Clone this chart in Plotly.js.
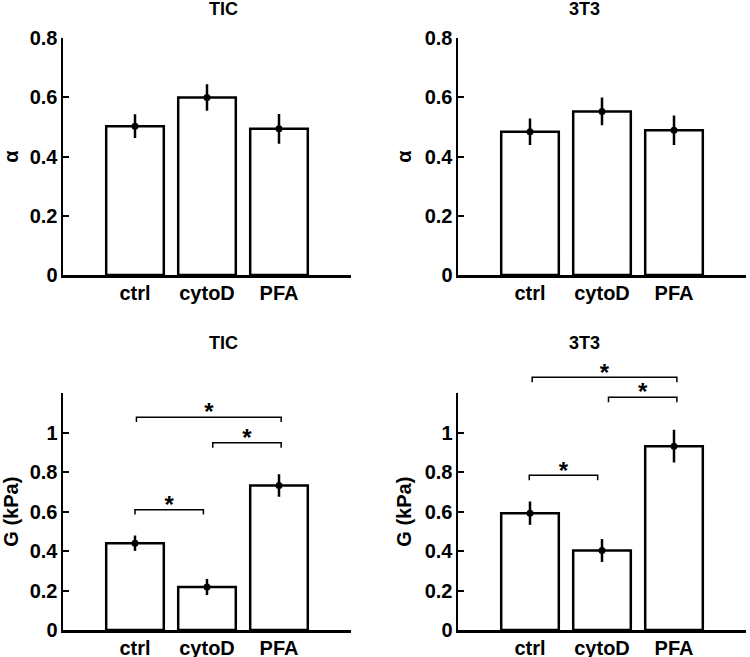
<!DOCTYPE html>
<html>
<head>
<meta charset="utf-8">
<script src="https://cdn.plot.ly/plotly-3.0.1.min.js"></script>
<style>html,body{margin:0;padding:0;background:#fff;}#chart{width:750px;height:657px;}</style>
</head>
<body>
<div id="chart"></div>
<script>
// ---- data ----
const categories = ['ctrl', 'cytoD', 'PFA'];
const categoryPos = [1, 2, 3];

const alphaTIC = [0.503, 0.600, 0.494];
const alphaTICErr = [0.040, 0.045, 0.050];
const alpha3T3 = [0.484, 0.553, 0.489];
const alpha3T3Err = [0.045, 0.047, 0.050];

const gTIC = [0.440, 0.218, 0.733];
const gTICErr = [0.039, 0.041, 0.057];
const g3T3 = [0.592, 0.403, 0.932];
const g3T3Err = [0.059, 0.058, 0.083];

// significance brackets (category positions and heights in kPa)
const bracketFromTIC = [1.00, 2.08, 1.02];
const bracketToTIC = [1.95, 3.03, 3.03];
const bracketYTIC = [0.610, 0.949, 1.079];
const bracketFrom3T3 = [0.99, 2.09, 1.03];
const bracketTo3T3 = [1.94, 3.04, 3.04];
const bracketY3T3 = [0.784, 1.180, 1.281];
const bracketLabel = '*';

const alphaTicks = [0, 0.2, 0.4, 0.6, 0.8];
const alphaTickText = ['0', '0.2', '0.4', '0.6', '0.8'];
const gTicks = [0, 0.2, 0.4, 0.6, 0.8, 1];
const gTickText = ['0', '0.2', '0.4', '0.6', '0.8', '1'];

// ---- styling ----
const FONT = 'Liberation Sans, Arial, Helvetica, sans-serif';
const LW = 2.5;
const BRACKET_DROP = 0.025;
const STAR_LIFT = 0.014;

function barTrace(vals, xa, ya) {
  return {
    type: 'bar', x: categoryPos, y: vals, width: 0.8,
    xaxis: xa, yaxis: ya,
    marker: {color: '#ffffff', line: {color: '#000000', width: LW}},
    hoverinfo: 'skip', showlegend: false
  };
}
function errTrace(vals, errs, xa, ya) {
  return {
    type: 'scatter', mode: 'markers', x: categoryPos, y: vals,
    xaxis: xa, yaxis: ya,
    marker: {color: '#000000', size: 7},
    error_y: {type: 'data', array: errs, visible: true, color: '#000000', thickness: LW, width: 0},
    hoverinfo: 'skip', showlegend: false
  };
}
function bracketTraces(from, to, ys, xa, ya) {
  const bx = [], by = [], sx = [], sy = [], st = [];
  for (let i = 0; i < from.length; i++) {
    bx.push(from[i], from[i], to[i], to[i], null);
    by.push(ys[i] - BRACKET_DROP, ys[i], ys[i], ys[i] - BRACKET_DROP, null);
    sx.push((from[i] + to[i]) / 2);
    sy.push(ys[i] + STAR_LIFT);
    st.push(bracketLabel);
  }
  return [
    {type: 'scatter', mode: 'lines', x: bx, y: by, xaxis: xa, yaxis: ya,
     line: {color: '#000000', width: 1.5}, hoverinfo: 'skip', showlegend: false, connectgaps: false},
    {type: 'scatter', mode: 'text', x: sx, y: sy, text: st, xaxis: xa, yaxis: ya,
     textposition: 'middle center', cliponaxis: false,
     textfont: {family: FONT, size: 24, color: '#000000', weight: 700},
     hoverinfo: 'skip', showlegend: false}
  ];
}

const data = [
  barTrace(alphaTIC, 'x', 'y'), errTrace(alphaTIC, alphaTICErr, 'x', 'y'),
  barTrace(alpha3T3, 'x2', 'y2'), errTrace(alpha3T3, alpha3T3Err, 'x2', 'y2'),
  barTrace(gTIC, 'x3', 'y3'), errTrace(gTIC, gTICErr, 'x3', 'y3'),
  barTrace(g3T3, 'x4', 'y4'), errTrace(g3T3, g3T3Err, 'x4', 'y4'),
  ...bracketTraces(bracketFromTIC, bracketToTIC, bracketYTIC, 'x3', 'y5'),
  ...bracketTraces(bracketFrom3T3, bracketTo3T3, bracketY3T3, 'x4', 'y6')
];

const tickFont = {family: FONT, size: 20, color: '#000000', weight: 700};
function xAxis(domain, anchor) {
  return {
    domain: domain, anchor: anchor, range: [0, 4],
    tickvals: [1, 2, 3, 4], ticktext: categories.concat(['']),
    ticks: 'inside', ticklen: 6, tickwidth: 2, tickcolor: '#000',
    showline: true, linewidth: LW, linecolor: '#000',
    showgrid: false, zeroline: false, tickfont: tickFont,
    ticklabelstandoff: -2,
    layer: 'below traces', fixedrange: true
  };
}
function yAxis(domain, anchor, range, tv, tt, title) {
  return {
    domain: domain, anchor: anchor, range: range,
    tickvals: tv, ticktext: tt,
    ticks: 'inside', ticklen: 6, tickwidth: 2, tickcolor: '#000',
    showline: true, linewidth: LW, linecolor: '#000',
    showgrid: false, zeroline: false, tickfont: tickFont,
    ticklabelstandoff: -1,
    title: {text: title, font: {family: FONT, size: 20, color: '#000', weight: 700}, standoff: 8},
    layer: 'below traces', fixedrange: true
  };
}

const W = 750, H = 657;
const xdL = [63 / W, 351 / W];
const xdR = [458 / W, 746 / W];
const ydT = [1 - 275 / H, 1 - 38.3 / H];
const ydB = [1 - 630 / H, 1 - 393.3 / H];
const ydBExt = [1 - 630 / H, 1 - (630 - 236.7 / 1.2 * 1.4) / H];

const titleFont = {family: FONT, size: 18, color: '#000', weight: 700};
const layout = {
  width: W, height: H,
  margin: {l: 0, r: 0, t: 0, b: 0},
  paper_bgcolor: '#ffffff', plot_bgcolor: 'rgba(0,0,0,0)',
  showlegend: false,
  bargap: 0.2,
  xaxis: xAxis(xdL, 'y'),
  yaxis: yAxis(ydT, 'x', [0, 0.8], alphaTicks, alphaTickText, 'α'),
  xaxis2: xAxis(xdR, 'y2'),
  yaxis2: yAxis(ydT, 'x2', [0, 0.8], alphaTicks, alphaTickText, 'α'),
  xaxis3: xAxis(xdL, 'y3'),
  yaxis3: yAxis(ydB, 'x3', [0, 1.2], gTicks, gTickText, 'G (kPa)'),
  xaxis4: xAxis(xdR, 'y4'),
  yaxis4: yAxis(ydB, 'x4', [0, 1.2], gTicks, gTickText, 'G (kPa)'),
  yaxis5: {domain: ydBExt, anchor: 'x3', range: [0, 1.4], visible: false, fixedrange: true},
  yaxis6: {domain: ydBExt, anchor: 'x4', range: [0, 1.4], visible: false, fixedrange: true},
  annotations: [
    {text: 'TIC', xref: 'paper', yref: 'paper', x: (xdL[0] + xdL[1]) / 2, y: 1 - 9.5 / H, showarrow: false, font: titleFont, yanchor: 'middle'},
    {text: '3T3', xref: 'paper', yref: 'paper', x: (xdR[0] + xdR[1]) / 2, y: 1 - 9.5 / H, showarrow: false, font: titleFont, yanchor: 'middle'},
    {text: 'TIC', xref: 'paper', yref: 'paper', x: (xdL[0] + xdL[1]) / 2, y: 1 - 343 / H, showarrow: false, font: titleFont, yanchor: 'middle'},
    {text: '3T3', xref: 'paper', yref: 'paper', x: (xdR[0] + xdR[1]) / 2, y: 1 - 343 / H, showarrow: false, font: titleFont, yanchor: 'middle'}
  ]
};

Plotly.newPlot('chart', data, layout, {displayModeBar: false, staticPlot: true});
</script>
</body>
</html>
